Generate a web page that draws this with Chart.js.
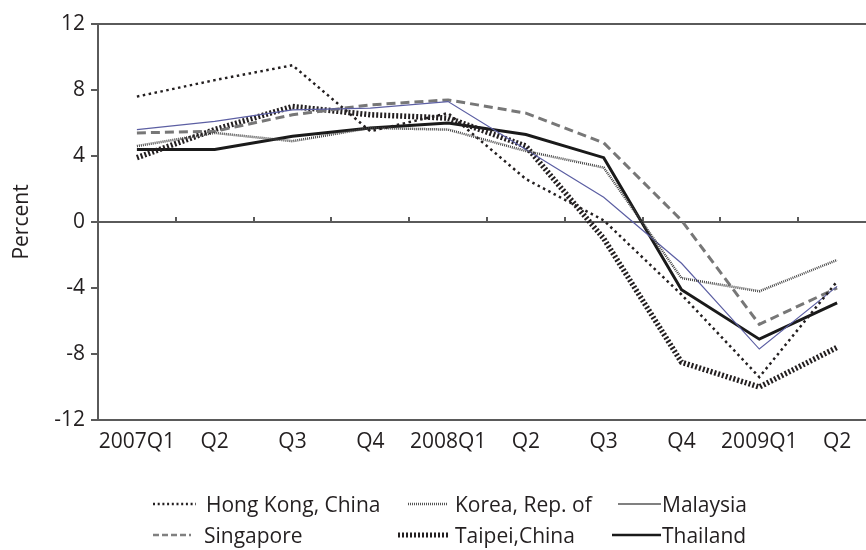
<!DOCTYPE html>
<html>
<head>
<meta charset="utf-8">
<script src="https://cdn.jsdelivr.net/npm/chart.js@4/dist/chart.umd.min.js"></script>
<style>
  html, body { margin: 0; padding: 0; background: #fff; overflow: hidden; }
  #wrap { position: relative; width: 866px; height: 550px; overflow: hidden; }
  #chart { position: absolute; left: 0; top: 0; }
  .leg-swatch { position: absolute; }
  .leg-text { position: absolute; font: 21px "Open Sans", sans-serif; color: #231f20; white-space: nowrap; line-height: 24px; }
</style>
</head>
<body>
<div id="wrap">
  <canvas id="chart" width="876" height="550"></canvas>
  <div id="legend"></div>
</div>
<script>
// --- data ---
const quarters = ["2007Q1", "Q2", "Q3", "Q4", "2008Q1", "Q2", "Q3", "Q4", "2009Q1", "Q2"];
const yTickValues = [-12, -8, -4, 0, 4, 8, 12];
const countries = ["Hong Kong, China", "Korea, Rep. of", "Malaysia", "Singapore", "Taipei,China", "Thailand"];

const hongKong  = [7.6, 8.6, 9.5, 5.5, 6.6, 2.6, 0.1, -4.4, -9.4, -3.6];
const korea     = [4.6, 5.4, 4.9, 5.7, 5.6, 4.3, 3.3, -3.4, -4.2, -2.3];
const malaysia  = [5.6, 6.1, 6.8, 6.9, 7.3, 4.4, 1.5, -2.5, -7.7, -3.9];
const singapore = [5.4, 5.5, 6.5, 7.1, 7.4, 6.6, 4.8, 0.1, -6.2, -4.0];
const taipei    = [3.9, 5.6, 7.0, 6.5, 6.3, 4.6, -1.0, -8.5, -10.0, -7.6];
const thailand  = [4.4, 4.4, 5.2, 5.7, 6.0, 5.3, 3.9, -4.1, -7.1, -4.9];

const seriesValues = [hongKong, korea, malaysia, singapore, taipei, thailand];

// --- styles ---
const textColor = "#231f20";
const axisColor = "#5a5a5a";
const fontFamily = "'Open Sans', sans-serif";

const lineStyles = [
    { color: "#231f20", width: 2.5, dash: [2.5, 3.5] },
    { color: "#444444", width: 2.5, dash: [1, 1] },
    { color: "#5c5fa3", width: 1.2, dash: [] },
    { color: "#777777", width: 3, dash: [9, 5] },
    { color: "#231f20", width: 5.5, dash: [2, 2] },
    { color: "#1a1a1a", width: 3, dash: [] }
];

// legend swatches (Malaysia is grey in the key)
const legendStyles = [
    { color: "#231f20", width: 2.5, dash: "2 2.7" },
    { color: "#555555", width: 2.5, dash: "1 1" },
    { color: "#808080", width: 2.2, dash: "" },
    { color: "#808080", width: 2.5, dash: "6 3" },
    { color: "#231f20", width: 5, dash: "2 2" },
    { color: "#1a1a1a", width: 2.5, dash: "" }
];

const legendLayout = [
    { x0: 153, x1: 196, tx: 206, cy: 504 },
    { x0: 408, x1: 448, tx: 455, cy: 504 },
    { x0: 618, x1: 661, tx: 662, cy: 504 },
    { x0: 153, x1: 191, tx: 204, cy: 535 },
    { x0: 398, x1: 448, tx: 455, cy: 535 },
    { x0: 612, x1: 661, tx: 662, cy: 535 }
];

function buildLegend() {
    const box = document.getElementById("legend");
    countries.forEach((name, i) => {
        const pos = legendLayout[i], st = legendStyles[i];
        const w = pos.x1 - pos.x0;
        const svg = document.createElementNS("http://www.w3.org/2000/svg", "svg");
        svg.setAttribute("class", "leg-swatch");
        svg.setAttribute("width", w);
        svg.setAttribute("height", 10);
        svg.style.left = pos.x0 + "px";
        svg.style.top = (pos.cy - 5) + "px";
        const ln = document.createElementNS("http://www.w3.org/2000/svg", "line");
        ln.setAttribute("x1", 0); ln.setAttribute("x2", w);
        ln.setAttribute("y1", 5); ln.setAttribute("y2", 5);
        ln.setAttribute("stroke", st.color);
        ln.setAttribute("stroke-width", st.width);
        if (st.dash) ln.setAttribute("stroke-dasharray", st.dash);
        svg.appendChild(ln);
        box.appendChild(svg);

        const t = document.createElement("div");
        t.className = "leg-text";
        t.innerText = name;
        t.style.left = pos.tx + "px";
        t.style.top = (pos.cy - 12) + "px";
        box.appendChild(t);
    });
}

function initChart() {
    const ctx = document.getElementById("chart").getContext("2d");
    const datasets = countries.map((name, i) => ({
        label: name,
        data: seriesValues[i],
        borderColor: lineStyles[i].color,
        borderWidth: lineStyles[i].width,
        borderDash: lineStyles[i].dash,
        borderCapStyle: "butt",
        borderJoinStyle: "miter",
        pointRadius: 0,
        tension: 0,
        fill: false
    }));

    new Chart(ctx, {
        type: "line",
        data: { labels: quarters, datasets: datasets },
        options: {
            responsive: false,
            animation: false,
            events: [],
            layout: { padding: { top: 24, right: 0, bottom: 0, left: 0 } },
            plugins: { legend: { display: false }, tooltip: { enabled: false } },
            scales: {
                x: {
                    offset: true,
                    grid: { display: false, drawTicks: false },
                    border: { display: true, color: axisColor, width: 2 },
                    ticks: { color: textColor, font: { family: fontFamily, size: 21 }, padding: 9, maxRotation: 0, autoSkip: false },
                    afterFit: s => { s.height = 130; }
                },
                x2: {
                    type: "category",
                    axis: "x",
                    position: { y: 0 },
                    offset: true,
                    grid: { display: true, drawOnChartArea: false, drawTicks: true, tickLength: -6, color: axisColor, lineWidth: 2, offset: true },
                    border: { display: true, color: axisColor, width: 2 },
                    ticks: { display: false },
                    afterFit: s => { s.height = 0; }
                },
                y: {
                    min: -12,
                    max: 12,
                    afterBuildTicks: s => { s.ticks = yTickValues.map(v => ({ value: v })); },
                    afterFit: s => { s.width = 98; },
                    grid: {
                        color: c => (c.tick && c.tick.value === 12 ? axisColor : "rgba(0,0,0,0)"),
                        tickColor: axisColor,
                        lineWidth: 2,
                        tickLength: 7,
                        drawTicks: true
                    },
                    border: { display: true, color: axisColor, width: 2 },
                    ticks: { color: textColor, font: { family: fontFamily, size: 21 }, padding: 6 },
                    title: {
                        display: true,
                        text: "Percent",
                        color: textColor,
                        font: { family: fontFamily, size: 21 },
                        padding: { top: 9, bottom: 0 }
                    }
                }
            }
        }
    });
}

buildLegend();
initChart();
</script>
</body>
</html>
